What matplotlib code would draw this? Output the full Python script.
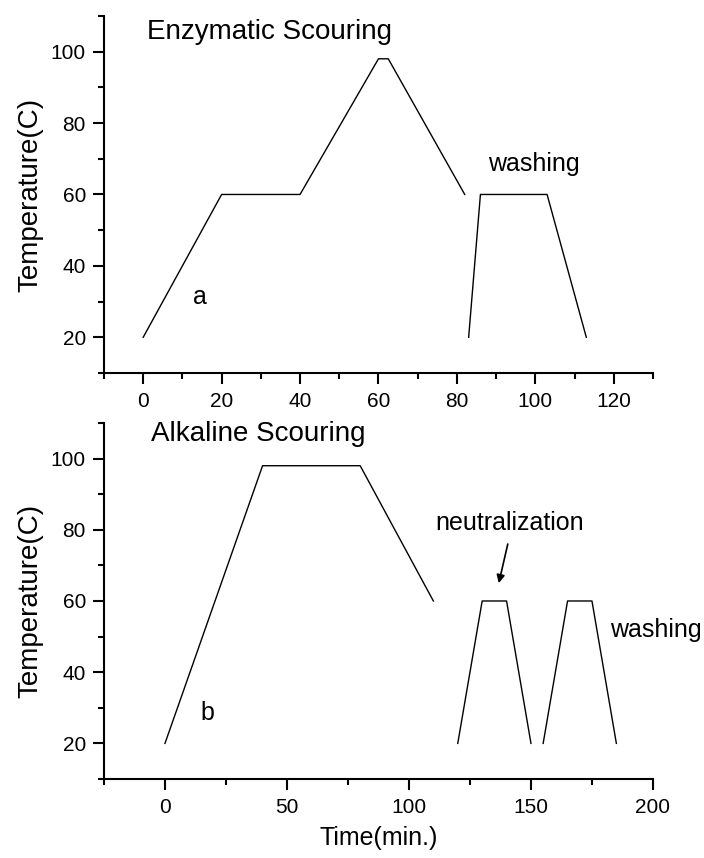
import matplotlib
matplotlib.use("Agg")
import matplotlib.pyplot as plt
from matplotlib.ticker import MultipleLocator

plt.rcParams['font.family'] = ['Liberation Sans', 'DejaVu Sans']

# Enzymatic scouring (a)
enz_time = [0, 20, 40, 60, 62.5, 82]
enz_temp = [20, 60, 60, 98, 98, 60]
enz_wash_time = [83, 86, 103, 113]
enz_wash_temp = [20, 60, 60, 20]

# Alkaline scouring (b)
alk_time = [0, 40, 80, 110]
alk_temp = [20, 98, 98, 60]
neut_time = [120, 130, 140, 150]
neut_temp = [20, 60, 60, 20]
alk_wash_time = [155, 165, 175, 185]
alk_wash_temp = [20, 60, 60, 20]

fig = plt.figure(figsize=(7.04, 8.58), dpi=100)
ax1 = fig.add_axes([0.1477, 0.5653, 0.7798, 0.4161])
ax2 = fig.add_axes([0.1477, 0.0921, 0.7798, 0.4149])

def style(ax):
    for s in ['top', 'right']:
        ax.spines[s].set_visible(False)
    for s in ['left', 'bottom']:
        ax.spines[s].set_linewidth(1.5)
    ax.tick_params(which='major', length=8, width=1.5, labelsize=15, direction='out')
    ax.tick_params(which='minor', length=4.3, width=1.5, direction='out')
    ax.tick_params(axis='x', which='major', pad=5.5)
    ax.tick_params(axis='y', which='major', pad=5)
    ax.set_ylim(10, 110)
    ax.yaxis.set_major_locator(MultipleLocator(20))
    ax.yaxis.set_minor_locator(MultipleLocator(10))
    ax.set_ylabel('Temperature(C)', fontsize=20, labelpad=5)

lw = 1.0
ax1.plot(enz_time, enz_temp, color='black', lw=lw)
ax1.plot(enz_wash_time, enz_wash_temp, color='black', lw=lw)
ax1.set_xlim(-10, 130)
ax1.xaxis.set_major_locator(MultipleLocator(20))
ax1.xaxis.set_minor_locator(MultipleLocator(10))
style(ax1)
ax1.text(1, 105.5, 'Enzymatic Scouring', fontsize=20, va='center', ha='left')
ax1.text(14.4, 31.3, 'a', fontsize=18, va='center', ha='center')
ax1.text(99.5, 68.4, 'washing', fontsize=18, va='center', ha='center')

ax2.plot(alk_time, alk_temp, color='black', lw=lw)
ax2.plot(neut_time, neut_temp, color='black', lw=lw)
ax2.plot(alk_wash_time, alk_wash_temp, color='black', lw=lw)
ax2.set_xlim(-25, 200)
ax2.xaxis.set_major_locator(MultipleLocator(50))
ax2.xaxis.set_minor_locator(MultipleLocator(25))
style(ax2)
ax2.set_xlabel('Time(min.)', fontsize=18, labelpad=7)
ax2.text(-5.7, 107, 'Alkaline Scouring', fontsize=20, va='center', ha='left')
ax2.text(17.2, 28.5, 'b', fontsize=18, va='center', ha='center')
ax2.text(141.3, 82, 'neutralization', fontsize=18, va='center', ha='center')
ax2.text(182.3, 51.9, 'washing', fontsize=18, va='center', ha='left')
ax2.annotate('', xy=(136.8, 65), xytext=(140.5, 76),
             arrowprops=dict(arrowstyle='-|>', color='black', lw=1.2,
                             mutation_scale=12, shrinkA=0, shrinkB=0))

fig.savefig('out.png', dpi=100)
